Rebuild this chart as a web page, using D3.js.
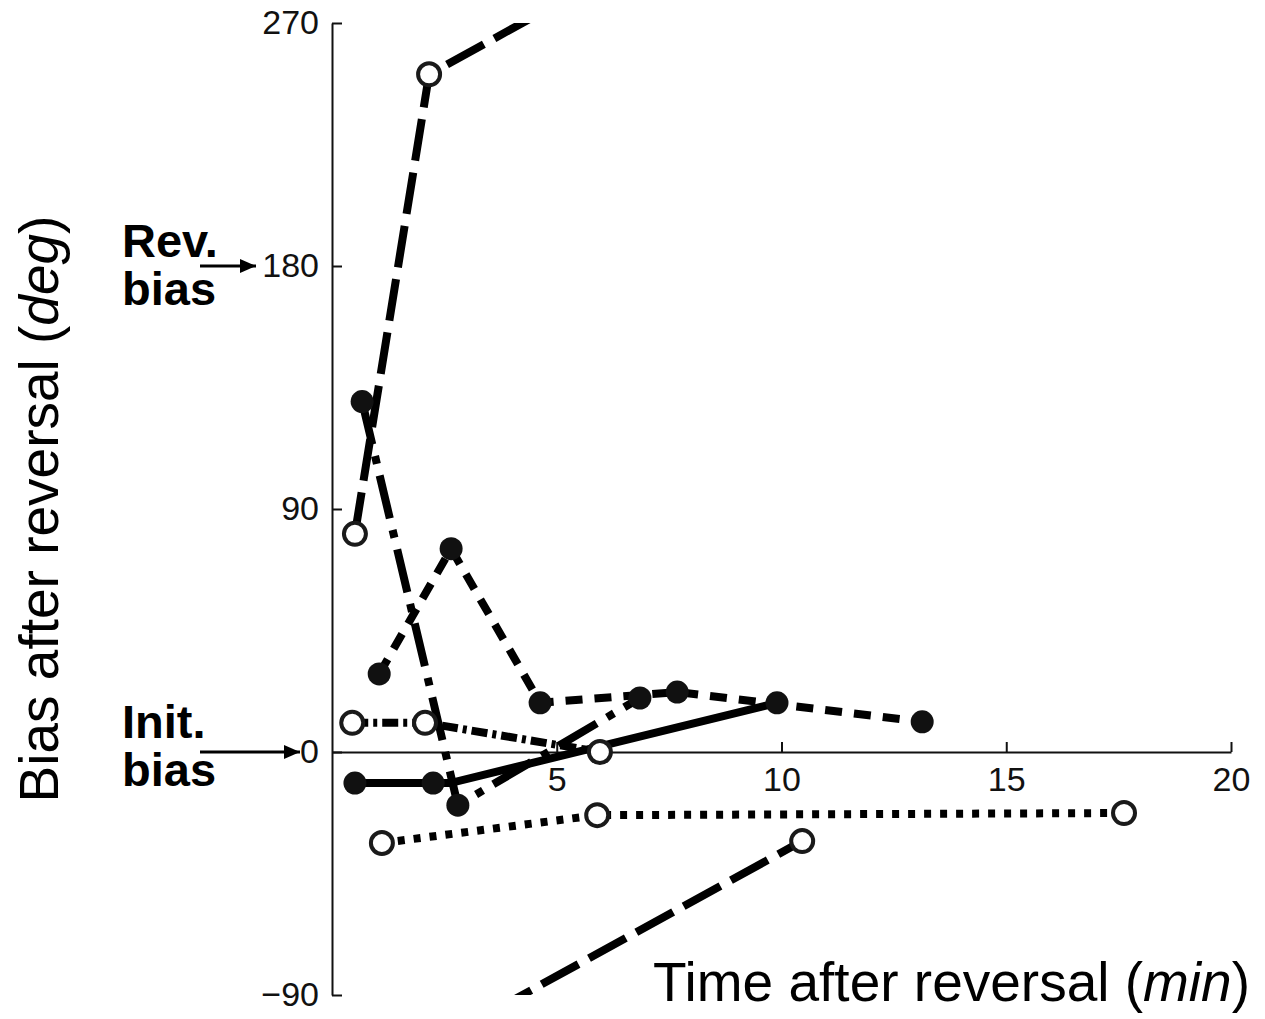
<!DOCTYPE html>
<html>
<head>
<meta charset="utf-8">
<script src="https://cdn.jsdelivr.net/npm/d3@7/dist/d3.min.js"></script>
<style>
  html, body { margin: 0; padding: 0; background: #fff; }
  svg { display: block; font-family: "Liberation Sans", Arial, sans-serif; }
</style>
</head>
<body>
<svg id="chart" width="1265" height="1019"></svg>
<script>
// Bias (deg) measured at each time (min) after reversal, one pair of arrays per animal.
// Bias is circular: values above 270 wrap around to the bottom of the axis.
const timeA = [0.51, 2.16, 10.46];
const biasA = [80.8, 251, 327];

const timeB = [0.67, 2.80, 6.85];
const biasB = [129.8, -19.7, 20.0];

const timeC = [1.05, 2.65, 4.63, 7.68, 13.13];
const biasC = [28.9, 75.3, 18.2, 22.2, 11.2];

const timeD = [0.51, 2.25, 2.63, 9.90];
const biasD = [-11.5, -11.5, -11.5, 18.2];
const markD = [true, true, false, true];

const timeE = [0.45, 2.07, 5.96];
const biasE = [10.8, 10.8, 0.0];

const timeF = [1.11, 5.90, 17.62];
const biasF = [-33.7, -23.4, -22.6];

const xTicks = [5, 10, 15, 20];
const yTicks = [270, 180, 90, 0, -90];
const yTickLabels = ["270", "180", "90", "0", "\u221290"];

const svg = d3.select("#chart");
const x = d3.scaleLinear().domain([0, 20]).range([332, 1231]);
const y = d3.scaleLinear().domain([-90, 270]).range([995, 23]);

// series table: data + drawing style
const series = [
  { t: timeA, b: biasA, dash: "42,12", open: true },
  { t: timeB, b: biasB, dash: "44,12,8,12", open: false },
  { t: timeC, b: biasC, dash: "17,12", open: false },
  { t: timeD, b: biasD, dash: null, open: false, mark: markD },
  { t: timeE, b: biasE, dash: "16,5,4,5", open: true },
  { t: timeF, b: biasF, dash: "7,9", open: true }
].map(s => ({
  ...s,
  pts: s.t.map((t, i) => ({ t, b: s.b[i], show: s.mark ? s.mark[i] : true }))
}));

// clip region for the circular wrap
svg.append("defs").append("clipPath").attr("id", "plotClip")
  .append("rect")
  .attr("x", x(0) - 40).attr("width", x(20) - x(0) + 80)
  .attr("y", y(270)).attr("height", y(-90) - y(270));

// axes
const yAxis = d3.axisLeft(y)
  .tickValues(yTicks)
  .tickFormat((d, i) => yTickLabels[i])
  .tickSizeInner(-10).tickSizeOuter(0).tickPadding(13);
const gy = svg.append("g").attr("transform", `translate(${x(0)},0)`).call(yAxis);

const xAxis = d3.axisBottom(x)
  .tickValues(xTicks)
  .tickSizeInner(-10).tickSizeOuter(0).tickPadding(15);
const gx = svg.append("g").attr("transform", `translate(0,${y(0)})`).call(xAxis);

[gx, gy].forEach(g => {
  g.select(".domain").attr("stroke", "#111").attr("stroke-width", 2);
  g.selectAll(".tick line").attr("stroke", "#111").attr("stroke-width", 2);
  g.selectAll(".tick text").attr("fill", "#111")
    .style("font-family", '"Liberation Sans", Arial, sans-serif')
    .style("font-size", "34px");
});

// lines (drawn once as-is and once shifted by one full turn, both clipped)
const line = d3.line().x(d => x(d.t)).y(d => y(d.b));
const lineLayer = svg.append("g").attr("clip-path", "url(#plotClip)");
series.forEach(s => {
  [0, -360].forEach(shift => {
    lineLayer.append("path")
      .datum(s.pts.map(p => ({ t: p.t, b: p.b + shift })))
      .attr("d", line)
      .attr("fill", "none")
      .attr("stroke", "#000")
      .attr("stroke-width", 8)
      .attr("stroke-dasharray", s.dash)
      .attr("stroke-linejoin", "miter");
  });
});

// markers, at the wrapped angle
const wrap = b => (b > 270 ? b - 360 : b);
const markLayer = svg.append("g");
series.forEach(s => {
  markLayer.selectAll(null)
    .data(s.pts.filter(p => p.show))
    .join("circle")
    .attr("cx", d => x(d.t))
    .attr("cy", d => y(wrap(d.b)))
    .attr("r", s.open ? 11 : 11.5)
    .attr("fill", s.open ? "#fff" : "#111")
    .attr("stroke", "#1a1a1a")
    .attr("stroke-width", s.open ? 4 : 0);
});

// axis titles
const yTitle = svg.append("text")
  .attr("transform", `translate(58,${y(90)}) rotate(-90)`)
  .attr("text-anchor", "middle")
  .style("font-size", "55px").attr("fill", "#000");
yTitle.append("tspan").text("Bias after reversal (");
yTitle.append("tspan").style("font-style", "italic").text("deg");
yTitle.append("tspan").text(")");

const xTitle = svg.append("text")
  .attr("x", 1250).attr("y", 1001)
  .attr("text-anchor", "end")
  .style("font-size", "55px").attr("fill", "#000");
xTitle.append("tspan").text("Time after reversal (");
xTitle.append("tspan").style("font-style", "italic").text("min");
xTitle.append("tspan").text(")");

// reference-bias annotations with arrows
svg.append("defs").append("marker")
  .attr("id", "arrowHead")
  .attr("viewBox", "0 0 10 10").attr("refX", 10).attr("refY", 5)
  .attr("markerWidth", 16).attr("markerHeight", 14)
  .attr("markerUnits", "userSpaceOnUse")
  .attr("orient", "auto")
  .attr("preserveAspectRatio", "none")
  .append("path").attr("d", "M0,0L10,5L0,10Z").attr("fill", "#000");

const notes = [
  { lines: ["Rev.", "bias"], value: 180, top: 257, arrowTo: 256 },
  { lines: ["Init.", "bias"], value: 0, top: 738, arrowTo: 300 }
];
notes.forEach(n => {
  const t = svg.append("text").attr("x", 122)
    .style("font-size", "47px").style("font-weight", "bold").attr("fill", "#000");
  n.lines.forEach((l, i) => t.append("tspan").attr("x", 122).attr("y", n.top + i * 48).text(l));
  svg.append("line")
    .attr("x1", 200).attr("x2", n.arrowTo)
    .attr("y1", y(n.value)).attr("y2", y(n.value))
    .attr("stroke", "#000").attr("stroke-width", 3)
    .attr("marker-end", "url(#arrowHead)");
});
</script>
</body>
</html>
